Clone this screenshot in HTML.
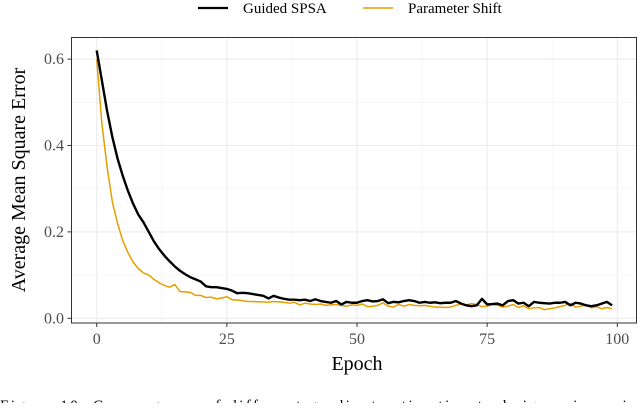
<!DOCTYPE html>
<html><head><meta charset="utf-8"><style>
body{margin:0;background:#fff;width:640px;height:403px;overflow:hidden;font-family:"Liberation Serif",serif;}
</style></head><body>
<svg width="640" height="403" font-family="Liberation Serif, serif">
<g id="legend">
<line x1="198" y1="8" x2="228" y2="8" stroke="#000" stroke-width="2.2"/>
<text x="243" y="13" font-size="15" fill="#000">Guided SPSA</text>
<line x1="363" y1="8" x2="393" y2="8" stroke="#E69F00" stroke-width="1.6"/>
<text x="408" y="13" font-size="15" fill="#000">Parameter Shift</text>
</g>
<g id="grid"></g>
<g id="series"></g>
<rect x="71.5" y="37.5" width="565" height="285.5" fill="none" stroke="#333" stroke-width="1"/>
<g id="axes"></g>
<text x="357" y="370" font-size="20" text-anchor="middle" fill="#000">Epoch</text>
<text transform="translate(25,180) rotate(-90)" font-size="20" text-anchor="middle" fill="#000">Average Mean Square Error</text>
<text x="0" y="410" font-size="15" fill="#000" textLength="655" lengthAdjust="spacing">Figure 10:  Convergence of different gradient estimation techniques in various</text>
</svg>
<script>
const xTicks=[0,25,50,75,100];
const yTicks=[0,0.2,0.4,0.6];
const yTickLabels=["0.0","0.2","0.4","0.6"];
const guidedSPSA=[0.62,0.55,0.48,0.42,0.37,0.33,0.295,0.265,0.24,0.222,0.2,0.178,0.16,0.145,0.132,0.12,0.11,0.102,0.095,0.09,0.085,0.074,0.072,0.072,0.07,0.068,0.064,0.058,0.059,0.058,0.056,0.054,0.052,0.046,0.052,0.048,0.045,0.043,0.043,0.042,0.043,0.04,0.044,0.04,0.038,0.036,0.04,0.032,0.038,0.036,0.036,0.04,0.042,0.039,0.04,0.044,0.035,0.038,0.037,0.04,0.042,0.04,0.036,0.038,0.036,0.037,0.035,0.036,0.036,0.04,0.034,0.03,0.028,0.03,0.045,0.032,0.033,0.034,0.03,0.04,0.042,0.034,0.036,0.028,0.038,0.036,0.035,0.034,0.036,0.036,0.038,0.03,0.036,0.034,0.03,0.028,0.03,0.034,0.038,0.03];
const parameterShift=[0.6,0.45,0.35,0.27,0.22,0.18,0.152,0.13,0.115,0.105,0.1,0.09,0.082,0.076,0.072,0.078,0.062,0.061,0.06,0.053,0.053,0.048,0.049,0.045,0.047,0.05,0.043,0.042,0.041,0.039,0.039,0.038,0.038,0.037,0.039,0.038,0.037,0.035,0.037,0.031,0.035,0.033,0.032,0.033,0.03,0.031,0.032,0.03,0.028,0.031,0.03,0.033,0.027,0.028,0.03,0.036,0.028,0.026,0.032,0.028,0.032,0.03,0.029,0.03,0.028,0.026,0.026,0.025,0.026,0.03,0.033,0.031,0.034,0.032,0.027,0.028,0.032,0.03,0.026,0.028,0.032,0.025,0.029,0.022,0.024,0.025,0.02,0.022,0.024,0.027,0.03,0.034,0.026,0.028,0.032,0.024,0.027,0.022,0.025,0.022];
const NS="http://www.w3.org/2000/svg";
function xs(v){return 96.7+v*5.206;}
function ys(v){return 318.3-v*432;}
const grid=document.getElementById('grid'),axes=document.getElementById('axes'),ser=document.getElementById('series');
function mk(tag,attrs,parent){const e=document.createElementNS(NS,tag);for(const k in attrs)e.setAttribute(k,attrs[k]);parent.appendChild(e);return e;}
for(let i=0;i<xTicks.length-1;i++){const m=(xTicks[i]+xTicks[i+1])/2;
const g=mk('line',{x1:xs(m),x2:xs(m),y1:37.5,y2:323,stroke:'#f2f2f2','stroke-width':0.6},grid);

}
for(let i=0;i<yTicks.length-1;i++){const m=(yTicks[i]+yTicks[i+1])/2;
const g=mk('line',{x1:71.5,x2:636.5,y1:ys(m),y2:ys(m),stroke:'#f2f2f2','stroke-width':0.6},grid);

}
xTicks.forEach(t=>{
const g=mk('line',{x1:xs(t),x2:xs(t),y1:37.5,y2:323,stroke:'#ebebeb','stroke-width':1.1},grid);


const tk=mk('line',{x1:xs(t),x2:xs(t),y1:323,y2:327,stroke:'#333'},axes);


const tx=mk('text',{x:xs(t),y:344,'font-size':16,'text-anchor':'middle',fill:'#4d4d4d'},axes);
tx.textContent=t;

});
yTicks.forEach((t,i)=>{
const g=mk('line',{x1:71.5,x2:636.5,y1:ys(t),y2:ys(t),stroke:'#ebebeb','stroke-width':1.1},grid);


const tk=mk('line',{x1:67.5,x2:71.5,y1:ys(t),y2:ys(t),stroke:'#333'},axes);


const tx=mk('text',{x:64,y:ys(t)+5,'font-size':16,'text-anchor':'end',fill:'#4d4d4d'},axes);
tx.textContent=yTickLabels[i];

});
function path(arr){return arr.map((v,i)=>(i?'L':'M')+xs(i).toFixed(2)+','+ys(v).toFixed(2)).join('');}
const p1=mk('path',{d:path(parameterShift),fill:'none',stroke:'#E69F00','stroke-width':1.5,'stroke-linejoin':'round'},ser);


const p2=mk('path',{d:path(guidedSPSA),fill:'none',stroke:'#000','stroke-width':2.4,'stroke-linejoin':'round'},ser);


</script>
</body></html>
